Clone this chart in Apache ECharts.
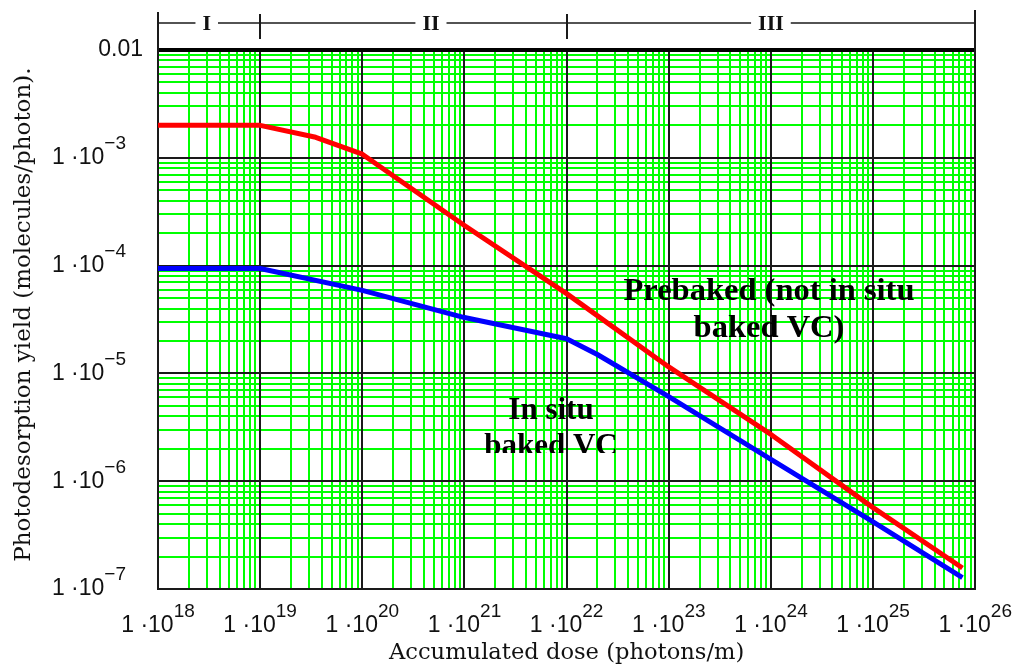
<!DOCTYPE html>
<html><head><meta charset="utf-8">
<script src="https://cdn.jsdelivr.net/npm/echarts@6/dist/echarts.min.js"></script>
<style>html,body{margin:0;padding:0;background:#fff}#c{width:1015px;height:670px}</style>
</head><body><div id="c"></div>
<script>
// ---- data ----
const xMin = 1e18, xMax = 1e26, yMin = 1e-7, yMax = 1e-2;
const prebakedX = [1e18, 1e19, 3.5e19, 1e20, 1e21, 1e22, 1e23, 1e24, 1e25, 7.5e25];
const prebakedY = [2.0e-3, 2.0e-3, 1.55e-3, 1.08e-3, 2.36e-4, 5.5e-5, 1.15e-5, 2.72e-6, 5.7e-7, 1.57e-7];
const insituX = [1e18, 1e19, 1e20, 1e21, 1e22, 2e22, 1e23, 1e24, 1e25, 7.5e25];
const insituY = [9.4e-5, 9.4e-5, 5.9e-5, 3.3e-5, 2.1e-5, 1.5e-5, 6.1e-6, 1.6e-6, 4.2e-7, 1.28e-7];
const regionBounds = [1e18, 1e19, 1e22, 1e26];
const regionLabels = ['I', 'II', 'III'];
const xDecades = [18, 19, 20, 21, 22, 23, 24, 25, 26];
const yDecades = [-7, -6, -5, -4, -3, -2];
const minorMult = [2, 3, 4, 5, 6, 7, 8, 9];
const xTitle = 'Accumulated dose (photons/m)';
const yTitle = 'Photodesorption yield (molecules/photon).';
const note1 = ['Prebaked (not in situ', 'baked VC)'];
const note2 = ['In situ', 'baked VC'];

const GREEN = '#00ff00', DARK = '#1a1a1a';
const LABEL_FONT = 'Liberation Sans';

function gridRender(params, api) {
  const tl = api.coord([xMin, yMax]), br = api.coord([xMax, yMin]);
  const left = Math.round(tl[0]), top = Math.round(tl[1]);
  const right = Math.round(br[0]), bottom = Math.round(br[1]);
  const ch = [];
  const vline = (x, y1, y2, c, w) => ch.push({type: 'line', shape: {x1: x, y1: y1, x2: x, y2: y2}, style: {stroke: c, lineWidth: w}});
  const hline = (y, x1, x2, c, w) => ch.push({type: 'line', shape: {x1: x1, y1: y, x2: x2, y2: y}, style: {stroke: c, lineWidth: w}});
  // minor green grid
  for (let i = 0; i < xDecades.length - 1; i++) {
    for (const m of minorMult) {
      const x = Math.round(api.coord([m * Math.pow(10, xDecades[i]), yMin])[0]);
      vline(x, top, bottom, GREEN, 2);
    }
  }
  for (let i = 0; i < yDecades.length - 1; i++) {
    for (const m of minorMult) {
      const y = Math.round(api.coord([xMin, m * Math.pow(10, yDecades[i])])[1]);
      hline(y, left, right, GREEN, 2);
    }
  }
  // major black grid
  for (const d of xDecades) {
    const x = Math.round(api.coord([Math.pow(10, d), yMin])[0]);
    vline(x, top, bottom, DARK, 2);
  }
  for (const d of yDecades) {
    const y = Math.round(api.coord([xMin, Math.pow(10, d)])[1]);
    hline(y, left, right, DARK, 2);
  }
  // frame
  hline(top, left - 1, right + 1, '#000', 4);
  hline(bottom, left - 1, right + 1, DARK, 2);
  vline(left, top - 38, bottom + 1, DARK, 2);
  vline(right, top - 40, bottom + 1, DARK, 2);
  // region band
  const bandY = top - 27;
  hline(bandY, left, right, DARK, 1.5);
  for (let i = 1; i < regionBounds.length - 1; i++) {
    const x = Math.round(api.coord([regionBounds[i], yMin])[0]);
    vline(x, top - 36, top - 11, DARK, 2);
  }
  const labelAt = [3e18, 4.7e20, 1e24];
  regionLabels.forEach((t, i) => {
    const x = api.coord([labelAt[i], yMin])[0];
    ch.push({type: 'text', x: x, y: bandY + 1, z2: 10, style: {
      text: t, fontFamily: 'Liberation Serif', fontWeight: 'bold', fontSize: 22, fill: '#111',
      align: 'center', verticalAlign: 'middle', backgroundColor: '#fff', padding: [2, 7, 0, 7]}});
  });
  return {type: 'group', children: ch};
}

function notesRender(params, api) {
  const ch = [];
  const st = (t, fs) => ({text: t, fontFamily: 'Liberation Serif', fontWeight: 'bold', fontSize: fs, fill: '#000', align: 'center', verticalAlign: 'middle'});
  ch.push({type: 'text', x: 769, y: 292, style: st(note1[0], 32.5)});
  ch.push({type: 'text', x: 769, y: 329, style: st(note1[1], 32.5)});
  ch.push({type: 'group', clipPath: {type: 'rect', shape: {x: 0, y: 0, width: 1015, height: 453}},
    children: [
      {type: 'text', x: 551, y: 411, style: st(note2[0], 31)},
      {type: 'text', x: 551, y: 447, style: st(note2[1], 31)}
    ]});
  return {type: 'group', children: ch};
}

const chart = echarts.init(document.getElementById('c'), null, {renderer: 'canvas'});
chart.setOption({
  animation: false,
  backgroundColor: '#fff',
  grid: {left: 158, right: 37, top: 50, bottom: 76},
  xAxis: {
    type: 'log', logBase: 10, min: xMin, max: xMax, splitNumber: 8,
    axisLine: {show: false}, axisTick: {show: false}, splitLine: {show: false},
    axisLabel: {
      margin: 13, hideOverlap: false, showMinLabel: true, showMaxLabel: true,
      formatter: v => '{b|1 ·10}{s|' + Math.round(Math.log10(v)) + '}',
      rich: {
        b: {fontFamily: LABEL_FONT, fontSize: 23, color: '#111'},
        s: {fontFamily: LABEL_FONT, fontSize: 19, color: '#111', padding: [0, 0, 28, 0]}
      }
    },
    name: xTitle, nameLocation: 'middle', nameGap: 52,
    nameTextStyle: {fontFamily: 'DejaVu Serif', fontSize: 22.6, color: '#111'}
  },
  yAxis: {
    type: 'log', logBase: 10, min: yMin, max: yMax, splitNumber: 5,
    axisLine: {show: false}, axisTick: {show: false}, splitLine: {show: false},
    axisLabel: {
      margin: 15, hideOverlap: false, showMinLabel: true, showMaxLabel: true,
      formatter: v => {
        const e = Math.round(Math.log10(v));
        if (e === -2) return '{n|0.01}';
        return '{b|1 ·10}{s|\u2212' + (-e) + '}';
      },
      rich: {
        n: {fontFamily: LABEL_FONT, fontSize: 23, color: '#111'},
        b: {fontFamily: LABEL_FONT, fontSize: 23, color: '#111'},
        s: {fontFamily: LABEL_FONT, fontSize: 19, color: '#111', padding: [0, 17, 28, 0]}
      }
    },
    name: yTitle, nameLocation: 'middle', nameGap: 122, nameTextStyle: {fontFamily: 'DejaVu Serif', fontSize: 23, color: '#111', padding: [0, 0, 0, 10]}
  },
  series: [
    {type: 'custom', renderItem: gridRender, data: [[xMin, yMax]], clip: false, silent: true, z: 1},
    {type: 'line', data: insituX.map((x, i) => [x, insituY[i]]), showSymbol: false,
      lineStyle: {color: '#0000ff', width: 5, join: 'round'}, z: 3},
    {type: 'line', data: prebakedX.map((x, i) => [x, prebakedY[i]]), showSymbol: false,
      lineStyle: {color: '#ff0000', width: 5, join: 'round'}, z: 3},
    {type: 'custom', renderItem: notesRender, data: [[xMin, yMax]], clip: false, silent: true, z: 4}
  ]
});
</script>
</body></html>
